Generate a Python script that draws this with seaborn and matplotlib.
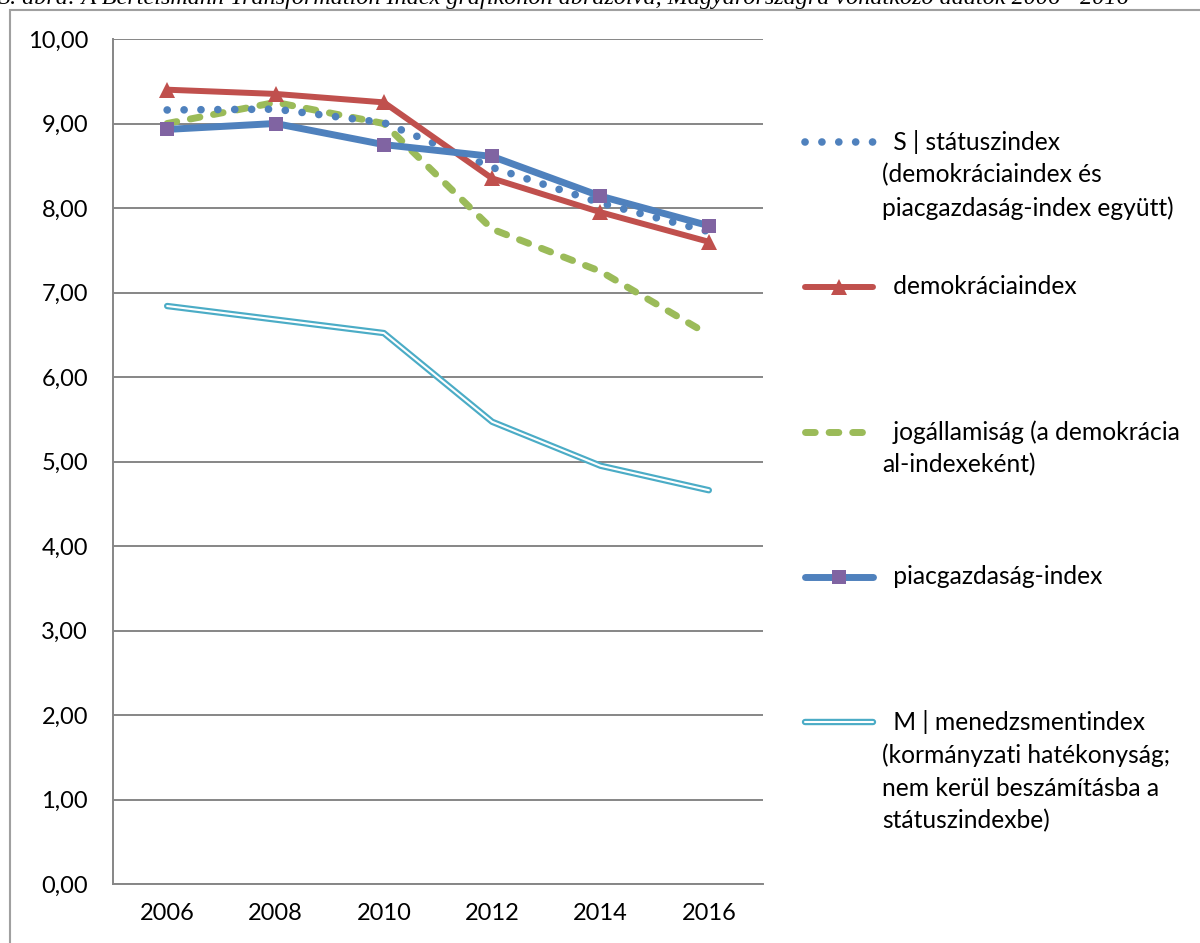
import numpy as np
import pandas as pd
import matplotlib
matplotlib.use("Agg")
import matplotlib.pyplot as plt
import matplotlib.patheffects as pe
from matplotlib.patches import Rectangle
import seaborn as sns

# Data (BTI, Magyarország)
years = ["2006", "2008", "2010", "2012", "2014", "2016"]
statuszindex = [9.16, 9.17, 9.01, 8.48, 8.06, 7.72]
demokraciaindex = [9.40, 9.35, 9.25, 8.35, 7.95, 7.60]
jogallamisag = [9.00, 9.25, 9.00, 7.75, 7.25, 6.50]
piacgazdasag = [8.93, 9.00, 8.75, 8.61, 8.14, 7.79]
menedzsment = [6.84, 6.68, 6.52, 5.47, 4.95, 4.66]

yticks = [0, 1, 2, 3, 4, 5, 6, 7, 8, 9, 10]

title = ("3. ábra: A Bertelsmann Transformation Index grafikonon ábrázolva, "
         "Magyarországra vonatkozó adatok 2006 - 2016")

legend_lines = [
    [" S | státuszindex", "(demokráciaindex és", "piacgazdaság-index együtt)"],
    [" demokráciaindex"],
    [" jogállamiság (a demokrácia", "al-indexeként)"],
    [" piacgazdaság-index"],
    [" M | menedzsmentindex", "(kormányzati hatékonyság;", "nem kerül beszámításba a", "státuszindexbe)"],
]

BLUE = "#4F81BD"
RED = "#C0504D"
GREEN = "#9BBB59"
PURPLE = "#8064A2"
CYAN = "#4BACC6"
GRID = "#868686"

sns.set_theme(style="white")
plt.rcParams["font.family"] = ["Lato", "DejaVu Sans"]

W, H = 1200, 943
fig = plt.figure(figsize=(W / 100, H / 100), dpi=100)
ax = fig.add_axes([113 / W, 1 - 884 / H, 650 / W, 845 / H])

x = np.arange(len(years))

# Series
dotted = dict(linestyle=(0, (0.01, 2.2)), dash_capstyle="round", linewidth=5.5)
dashed = dict(linestyle=(0, (1.4, 2.0)), dash_capstyle="round", linewidth=5)
double = dict(color="white", linewidth=1.5, solid_capstyle="round",
              path_effects=[pe.Stroke(linewidth=4.6, foreground=CYAN, capstyle="round"), pe.Normal()])

sns.lineplot(x=x, y=jogallamisag, ax=ax, color=GREEN, **dashed)
sns.lineplot(x=x, y=statuszindex, ax=ax, color=BLUE, **dotted)
sns.lineplot(x=x, y=demokraciaindex, ax=ax, color=RED, linewidth=4.3,
             marker="^", markersize=11, markeredgewidth=0, markerfacecolor=RED)
sns.lineplot(x=x, y=piacgazdasag, ax=ax, color=BLUE, linewidth=5,
             marker="s", markersize=10, markeredgewidth=0, markerfacecolor=PURPLE)
sns.lineplot(x=x, y=menedzsment, ax=ax, **double)

# Axes styling
ax.set_xlim(-0.5, len(years) - 0.5)
ax.set_ylim(0, 10)
ax.set_yticks(yticks)
ax.set_yticklabels([f"{v:.2f}".replace(".", ",") for v in yticks])
ax.set_xticks(x)
ax.set_xticklabels(years)
ax.set_xticks(np.arange(len(years) + 1) - 0.5, minor=True)
ax.tick_params(axis="x", which="major", length=0, pad=14, labelsize=17, colors="black")
ax.tick_params(axis="x", which="minor", length=6, width=1.3, color=GRID, direction="out")
ax.tick_params(axis="y", which="major", length=6, width=1.3, color=GRID, direction="out",
               pad=12, labelsize=17, labelcolor="black")
ax.yaxis.grid(True, color=GRID, linewidth=1.4)
ax.xaxis.grid(False)
for s in ["top", "right"]:
    ax.spines[s].set_visible(False)
for s in ["left", "bottom"]:
    ax.spines[s].set_color(GRID)
    ax.spines[s].set_linewidth(1.4)
ax.set_xlabel("")
ax.set_ylabel("")
ax.set_axisbelow(True)

# Legend drawn by hand (handle on first line of each entry)
lax = fig.add_axes([0, 0, 1, 1], zorder=3)
lax.set_xlim(0, W)
lax.set_ylim(H, 0)
lax.axis("off")
lax.patch.set_alpha(0)

entry_y = [142, 287, 432, 577, 722]
hx = [805, 873]
lax.plot(hx, [entry_y[0]] * 2, color=BLUE, **dotted)
lax.plot(hx, [entry_y[1]] * 2, color=RED, linewidth=4.3)
lax.plot([839], [entry_y[1]], marker="^", markersize=11, color=RED, markeredgewidth=0)
lax.plot(hx, [entry_y[2]] * 2, color=GREEN, **dashed)
lax.plot(hx, [entry_y[3]] * 2, color=BLUE, linewidth=5)
lax.plot([839], [entry_y[3]], marker="s", markersize=10, color=PURPLE, markeredgewidth=0)
lax.plot(hx, [entry_y[4]] * 2, **double)

for ey, lines in zip(entry_y, legend_lines):
    for i, line in enumerate(lines):
        lax.text(887 if i == 0 else 882, ey + i * 33, line, fontsize=17.7,
                 va="center", ha="left", color="black")

# Frame and caption (cropped at the page edges, as in the source page)
fig.patches.append(Rectangle((10 / W, -0.5), 2, 1.5 - 10 / H, transform=fig.transFigure,
                             fill=False, edgecolor="#A0A0A0", linewidth=1.5, clip_on=False))
fig.text(-2 / W, 1 - 4 / H, title, fontfamily=["Liberation Serif"], style="italic",
         fontsize=17.4, va="baseline", ha="left", color="black")

fig.savefig("out.png", dpi=100)
